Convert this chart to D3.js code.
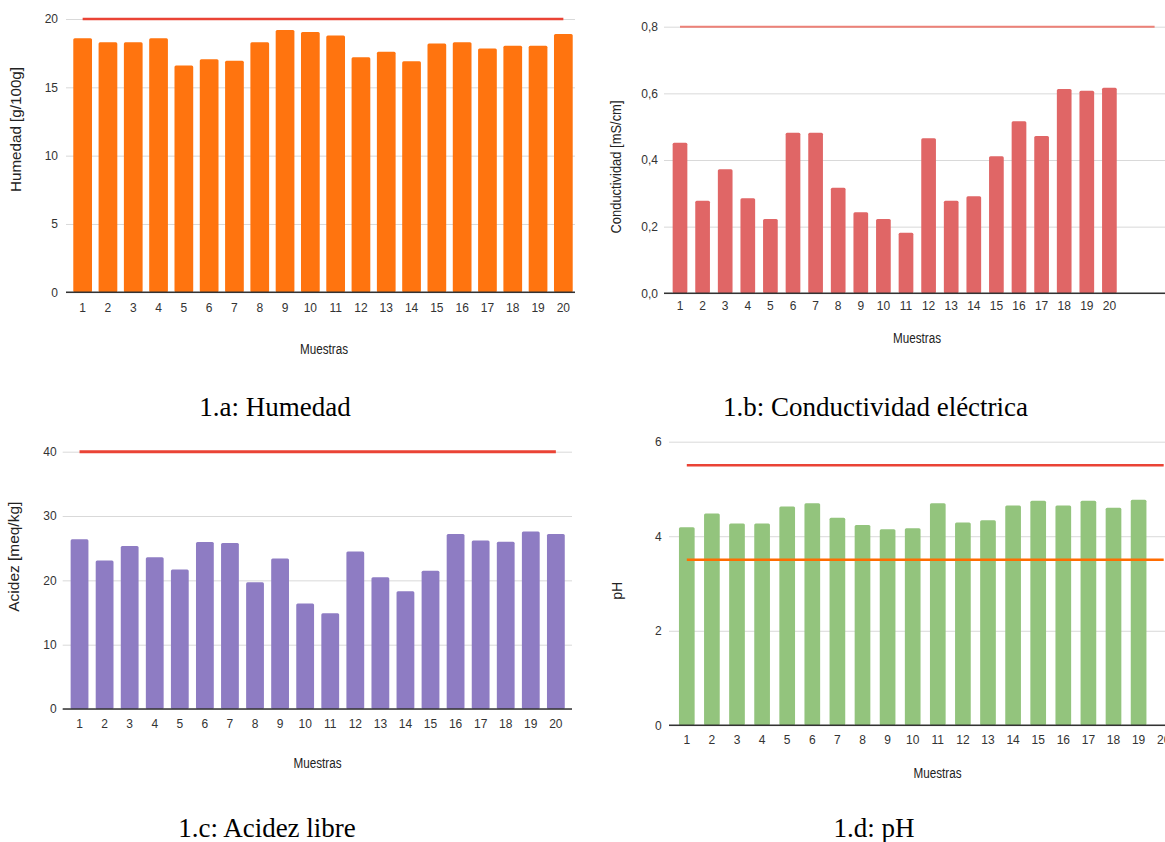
<!DOCTYPE html>
<html lang="es">
<head>
<meta charset="utf-8">
<title>Muestras de miel - parametros</title>
<script src="https://d3js.org/d3.v7.min.js"></script>
<style>
  body { margin: 0; background: #fff; }
  .tick text { font-family: "Liberation Sans", Arial, sans-serif; font-size: 12px; fill: #333; }
  .axis-title { font-family: "Liberation Sans", Arial, sans-serif; font-size: 14px; fill: #222; }
  .caption { font-family: "Liberation Serif", "Times New Roman", serif; font-size: 27px; fill: #000; }
</style>
</head>
<body>
<script>
// categorias (muestras)
const muestras = [1, 2, 3, 4, 5, 6, 7, 8, 9, 10, 11, 12, 13, 14, 15, 16, 17, 18, 19, 20];

// valores
const humedad = [18.6, 18.3, 18.3, 18.6, 16.6, 17.05, 16.95, 18.3, 19.2, 19.05,
                 18.8, 17.2, 17.6, 16.9, 18.2, 18.3, 17.85, 18.05, 18.05, 18.9];
const conductividad = [0.452, 0.278, 0.372, 0.285, 0.223, 0.482, 0.482, 0.317, 0.243, 0.223,
                       0.182, 0.465, 0.278, 0.291, 0.411, 0.516, 0.472, 0.613, 0.608, 0.617];
const acidez = [26.4, 23.1, 25.35, 23.6, 21.7, 25.95, 25.8, 19.7, 23.4, 16.4,
                14.9, 24.5, 20.5, 18.3, 21.5, 27.2, 26.2, 26.0, 27.6, 27.2];
const ph = [4.19, 4.48, 4.27, 4.27, 4.63, 4.70, 4.39, 4.24, 4.15, 4.17,
            4.70, 4.29, 4.34, 4.65, 4.75, 4.65, 4.75, 4.60, 4.77, null];

// limites normativos
const limHumedad = 20;
const limConductividad = 0.8;
const limAcidez = 40;
const limPhMax = 5.5;
const limPhMin = 3.5;

// ticks del eje y
const ticksHumedad = [0, 5, 10, 15, 20];
const ticksConductividad = [0, 0.2, 0.4, 0.6, 0.8];
const ticksAcidez = [0, 10, 20, 30, 40];
const ticksPh = [0, 2, 4, 6];

// la hoja de conductividad tenia dos filas vacias al final
const filasVaciasCond = ["v21", "v22"];

const captions = ["1.a: Humedad", "1.b: Conductividad eléctrica", "1.c: Acidez libre", "1.d: pH"];

const svg = d3.select("body").append("svg")
    .attr("width", 1165)
    .attr("height", 842);

const es = d3.formatLocale({decimal: ",", thousands: ".", grouping: [3], currency: ["", "€"]});

function drawPanel(p) {
  const g = svg.append("g");

  const x = d3.scaleBand()
      .domain(p.cats)
      .range([p.x0, p.x0 + p.step * p.cats.length])
      .paddingInner(p.pad)
      .paddingOuter(p.pad / 2);

  const y = d3.scaleLinear()
      .domain(p.yDomain)
      .range([p.bottom, p.top]);

  // grid + etiquetas y
  const yAxis = g.append("g")
      .attr("transform", `translate(${p.left},0)`)
      .call(d3.axisLeft(y)
        .tickValues(p.yTicks)
        .tickSize(-(p.right - p.left))
        .tickPadding(p.yPad)
        .tickFormat(p.fmt));
  yAxis.select(".domain").remove();
  yAxis.selectAll(".tick line").attr("stroke", "#d9d9d9").attr("stroke-width", 1);

  // barras
  const rows = p.cats.map((c, i) => ({c: c, v: p.values[i]}))
      .filter(d => d.v != null);
  g.selectAll("rect.bar")
    .data(rows)
    .join("rect")
      .attr("class", "bar")
      .attr("x", d => x(d.c))
      .attr("y", d => y(d.v))
      .attr("width", x.bandwidth())
      .attr("height", d => y(0) - y(d.v))
      .attr("rx", 1.5)
      .attr("fill", p.color);

  // linea base
  g.append("line")
      .attr("x1", p.left).attr("x2", p.right)
      .attr("y1", y(0)).attr("y2", y(0))
      .attr("stroke", "#333").attr("stroke-width", 1.5);

  // limites
  const first = p.cats[0], last = p.cats[p.cats.length - 1];
  g.selectAll("line.lim")
    .data(p.limits)
    .join("line")
      .attr("class", "lim")
      .attr("x1", x(first) + x.bandwidth() / 2)
      .attr("x2", x(last) + x.bandwidth() / 2)
      .attr("y1", d => y(d.v)).attr("y2", d => y(d.v))
      .attr("stroke", d => d.color)
      .attr("stroke-width", d => d.w)
      .attr("stroke-opacity", d => d.op || 1);

  // eje x
  const xAxis = g.append("g")
      .attr("transform", `translate(0,${y(0)})`)
      .call(d3.axisBottom(x)
        .tickValues(muestras)
        .tickSize(0)
        .tickPadding(p.xPad));
  xAxis.select(".domain").remove();

  // titulos de ejes
  g.append("text")
      .attr("class", "axis-title")
      .attr("x", p.xTitle[0]).attr("y", p.xTitle[1])
      .attr("text-anchor", "middle")
      .attr("textLength", 48).attr("lengthAdjust", "spacingAndGlyphs")
      .text("Muestras");

  const yt = g.append("text")
      .attr("class", "axis-title")
      .attr("transform", `translate(${p.yTitle[0]},${p.yTitle[1]}) rotate(-90)`)
      .attr("text-anchor", "middle")
      .attr("dominant-baseline", "central")
      .text(p.yLabel);
  if (p.yLen) yt.attr("textLength", p.yLen).attr("lengthAdjust", "spacingAndGlyphs");
}

drawPanel({
  cats: muestras, values: humedad, color: "#ff740f",
  x0: 70, step: 25.3, pad: 0.26,
  left: 66, right: 575, top: 19, bottom: 292.3,
  yDomain: [0, 20], yTicks: ticksHumedad, fmt: d3.format("d"), yPad: 8, xPad: 11.5,
  limits: [{v: limHumedad, color: "#ea4335", w: 2.5}],
  xTitle: [324, 354], yTitle: [15.5, 129.5], yLabel: "Humedad [g/100g]", yLen: 125
});

drawPanel({
  cats: muestras.concat(filasVaciasCond), values: conductividad, color: "#e06666",
  x0: 668.7, step: 22.6, pad: 0.35,
  left: 664, right: 1165, top: 26.7, bottom: 293.3,
  yDomain: [0, 0.8], yTicks: ticksConductividad, fmt: es.format(".1f"), yPad: 6, xPad: 8.5,
  limits: [{v: limConductividad, color: "#ea4335", w: 2, op: 0.65}],
  xTitle: [917, 343], yTitle: [615.5, 167], yLabel: "Conductividad [mS/cm]", yLen: 133
});

drawPanel({
  cats: muestras, values: acidez, color: "#8e7cc3",
  x0: 67, step: 25.07, pad: 0.29,
  left: 62.7, right: 572, top: 451.7, bottom: 709,
  yDomain: [0, 40], yTicks: ticksAcidez, fmt: d3.format("d"), yPad: 6, xPad: 10,
  limits: [{v: limAcidez, color: "#ea4335", w: 3}],
  xTitle: [317.5, 768], yTitle: [13.8, 556.7], yLabel: "Acidez [meq/kg]", yLen: 110
});

drawPanel({
  cats: muestras, values: ph, color: "#93c47d",
  x0: 674.25, step: 25.1, pad: 0.375,
  left: 669, right: 1165, top: 441.7, bottom: 725.3,
  yDomain: [0, 6], yTicks: ticksPh, fmt: d3.format("d"), yPad: 7.3, xPad: 9.7,
  limits: [{v: limPhMax, color: "#ea4335", w: 2.5}, {v: limPhMin, color: "#ff6d01", w: 2.5}],
  xTitle: [937.5, 778], yTitle: [616.7, 590.8], yLabel: "pH", yLen: 18
});

// pies de figura
const capPos = [[275, 416], [875.5, 416], [267, 837], [874, 837]];
svg.selectAll("text.caption")
  .data(captions)
  .join("text")
    .attr("class", "caption")
    .attr("x", (d, i) => capPos[i][0])
    .attr("y", (d, i) => capPos[i][1])
    .attr("text-anchor", "middle")
    .text(d => d);
</script>
</body>
</html>
